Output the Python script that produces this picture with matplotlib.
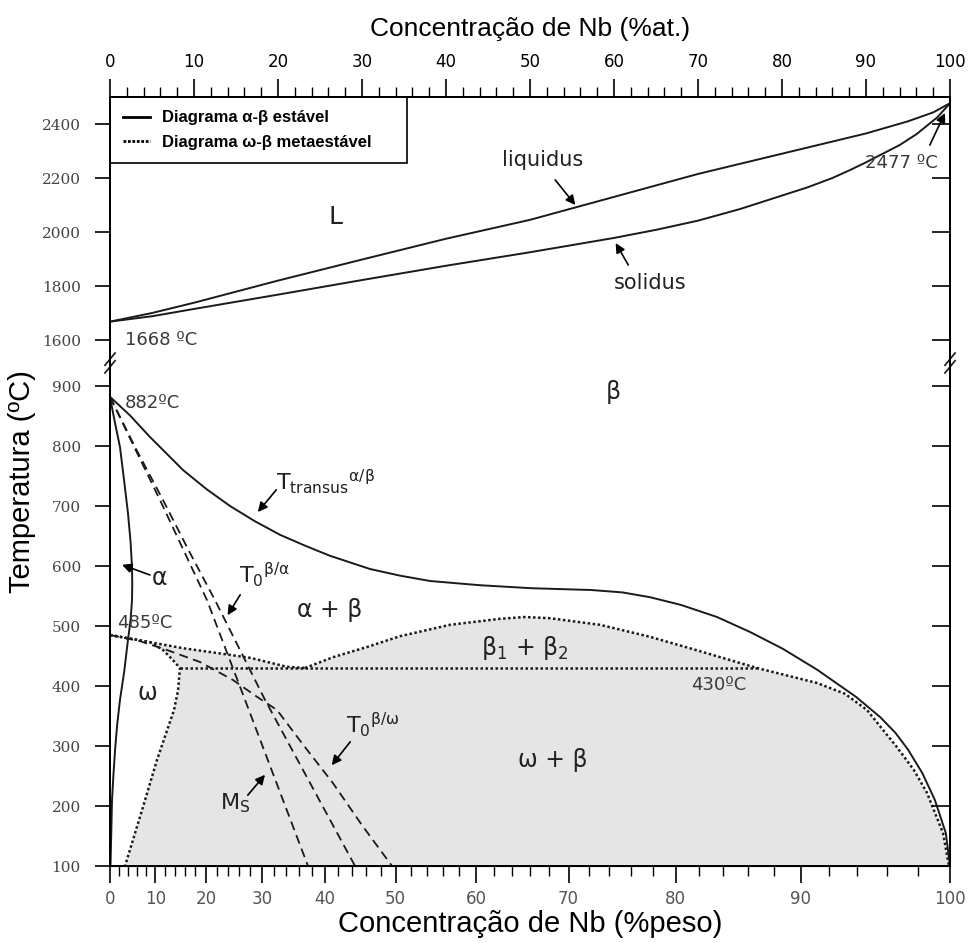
import numpy as np
import matplotlib.pyplot as plt
from matplotlib.lines import Line2D

plt.rcParams['font.family'] = ['DejaVu Sans']
plt.rcParams['mathtext.fontset'] = 'dejavusans'

M_TI = 47.87
M_NB = 92.91

# all curves: x in at.% Nb, y in ºC
liq_x = [0, 5, 10, 20, 30, 40, 50, 60, 70, 80, 90, 95, 98, 100]
liq_t = [1668, 1700, 1738, 1820, 1898, 1975, 2045, 2130, 2215, 2290, 2365, 2410, 2443, 2477]

sol_x = [0, 5, 10, 20, 30, 40, 50, 60, 65, 70, 75, 80, 83, 86, 88, 90, 92, 94, 96, 98.5, 100]
sol_t = [1668, 1688, 1715, 1768, 1822, 1875, 1925, 1978, 2008, 2042, 2085, 2135, 2165, 2200,
         2228, 2258, 2290, 2322, 2362, 2425, 2477]

transus_x = [0, 2.38, 4.76, 8.69, 11.5, 14.29, 17.2, 20.24, 23.2, 26.19, 30.95, 34.5, 38.1, 44,
             50.12, 57.26, 61, 64.29, 68, 72.26, 76.2, 80.1, 84.2, 88.8, 91.7, 93.5, 95.0,
             96.7, 98.2, 99.5, 100]
transus_t = [882, 851, 815, 760, 728, 700, 675, 652, 634, 617, 595, 584, 575, 568,
             563, 560, 556, 548, 535, 515, 490, 462, 427, 382, 348, 322, 294,
             255, 210, 155, 100]

alpha_x = [0, 0.5, 1.19, 1.7, 2.14, 2.45, 2.62, 2.65, 2.62, 2.45, 2.14, 1.7, 1.19, 0.85,
           0.6, 0.4, 0.24, 0.06]
alpha_t = [882, 845, 798, 740, 688, 640, 598, 570, 543, 510, 477, 425, 377, 335,
           293, 250, 210, 100]

ms_x = [0, 3.0, 5.95, 8.8, 11.55, 16.07, 23.57]
ms_t = [882, 795, 710, 625, 543, 377, 100]

t0a_x = [0, 3.1, 6.31, 9.4, 12.5, 18.45, 29.17]
t0a_t = [882, 795, 710, 625, 543, 377, 100]

t0w_x = [0, 3.5, 6.79, 10.71, 14.64, 17.5, 19.88, 23.0, 26.55, 30.0, 33.57]
t0w_t = [485, 475, 460, 440, 410, 382, 360, 302, 238, 168, 100]

# metastable omega-beta boundaries
omega_x = [0, 4.76, 6.31, 7.5, 8.33, 8.1, 7.62, 5.6, 3.81, 1.79]
omega_t = [485, 473, 460, 443, 430, 393, 360, 277, 193, 100]

upper_x = [0, 4.76, 8.69, 12.74, 16.67, 21.07, 23.21]
upper_t = [485, 473, 463, 455, 447, 432, 430]

dome_x = [23.21, 26.55, 30.6, 34.52, 40.48, 46.43, 49.4, 52.38, 58.33, 64.29, 70.24,
          77.02, 84.17, 87.5, 90.12, 93.69, 95.7, 97.26, 99.17, 99.88]
dome_t = [430, 448, 465, 483, 502, 512, 515, 513, 502, 482, 458,
          430, 405, 387, 360, 298, 260, 222, 155, 100]

iso_x = [8.33, 77.02]
iso_t = [430, 430]

y_ticks = [100, 200, 300, 400, 500, 600, 700, 800, 900, 1600, 1800, 2000, 2200, 2400]
at_ticks = list(range(0, 101, 10))
wt_ticks = list(range(0, 101, 10))


def at2wt(a):
    a = np.asarray(a, dtype=float)
    return 100 * a * M_NB / (a * M_NB + (100 - a) * M_TI)


def wt2at(w):
    w = np.asarray(w, dtype=float)
    return 100 * (w / M_NB) / (w / M_NB + (100 - w) / M_TI)


# broken temperature axis: 900..1600 squeezed into a small gap
T_BRK = [-2000, 100, 900, 1600, 2500, 6000]
V_BRK = [-1260, 0, 480, 526, 769, 1714]


def fwd(t):
    return np.interp(t, T_BRK, V_BRK)


def inv(v):
    return np.interp(v, V_BRK, T_BRK)


fig = plt.figure(figsize=(9.7, 9.43), dpi=100)
ax = fig.add_axes([110 / 970, 77 / 943, 840 / 970, 769 / 943])
ax.set_yscale('function', functions=(fwd, inv))
ax.set_xlim(0, 100)
ax.set_ylim(100, 2500)

line_c = '#1a1a1a'
dot = (0, (1, 1))
dash = (0, (5, 3))

poly_x = omega_x[::-1][:-1] + upper_x[1:] + dome_x[1:]
poly_t = omega_t[::-1][:-1] + upper_t[1:] + dome_t[1:]
ax.fill(poly_x, poly_t, color='#e5e5e5', lw=0, zorder=0.5)

ax.plot(liq_x, liq_t, color=line_c, lw=1.4)
ax.plot(sol_x, sol_t, color=line_c, lw=1.4)
ax.plot(transus_x, transus_t, color=line_c, lw=1.4)
ax.plot(alpha_x, alpha_t, color=line_c, lw=1.4)
ax.plot(ms_x, ms_t, color=line_c, lw=1.3, ls=dash)
ax.plot(t0a_x, t0a_t, color=line_c, lw=1.3, ls=dash)
ax.plot(t0w_x, t0w_t, color=line_c, lw=1.3, ls=dash)
ax.plot(omega_x, omega_t, color=line_c, lw=1.8, ls=dot)
ax.plot(upper_x, upper_t, color=line_c, lw=1.8, ls=dot)
ax.plot(dome_x, dome_t, color=line_c, lw=1.8, ls=dot)
ax.plot(iso_x, iso_t, color=line_c, lw=1.8, ls=dot)

# axes / ticks
ax.set_yticks(y_ticks)
ax.set_yticklabels([str(t) for t in y_ticks], family='DejaVu Serif', fontsize=11, color='#444444')
ax.tick_params(axis='y', direction='out', length=11, width=1.2, pad=10)
ax.set_ylabel('Temperatura (ºC)', family='Liberation Sans', fontsize=21, labelpad=4)

ax.xaxis.tick_top()
ax.xaxis.set_label_position('top')
ax.set_xticks(at_ticks)
ax.set_xticks(range(0, 101, 2), minor=True)
ax.tick_params(axis='x', which='major', direction='out', length=13, width=1.2, labelsize=12, pad=6)
ax.tick_params(axis='x', which='minor', direction='out', length=7, width=1.0)
ax.set_xlabel('Concentração de Nb (%at.)', family='Liberation Sans', fontsize=19, labelpad=12)

sec = ax.secondary_xaxis('bottom', functions=(at2wt, wt2at))
sec.set_xticks(wt_ticks)
sec.set_xticks(range(0, 101, 2), minor=True)
sec.tick_params(axis='x', which='major', direction='out', length=12, width=1.2, labelsize=12,
                labelcolor='#555555', pad=5)
sec.tick_params(axis='x', which='minor', direction='out', length=7, width=1.0)
sec.set_xlabel('Concentração de Nb (%peso)', family='Liberation Sans', fontsize=21, labelpad=2)

twin = ax.twinx()
twin.set_yscale('function', functions=(fwd, inv))
twin.set_ylim(100, 2500)
twin.set_yticks(y_ticks)
twin.tick_params(axis='y', direction='in', length=13, width=1.2, labelright=False)

for a in (ax, twin):
    for s in a.spines.values():
        s.set_linewidth(1.3)

# break marks on the temperature axis
yb = fwd(1250) / 769
for x0 in (0, 1):
    for dy in (-0.005, 0.005):
        ax.plot([x0 - 0.006, x0 + 0.006], [yb + dy - 0.008, yb + dy + 0.008],
                transform=ax.transAxes, color=line_c, lw=1.2, clip_on=False, zorder=5)

# legend
handles = [Line2D([], [], color='k', lw=2),
           Line2D([], [], color='k', lw=2, ls=(0, (1, 0.6)))]
leg = ax.legend(handles, ['Diagrama α-β estável', 'Diagrama ω-β metaestável'],
                loc='upper left', bbox_to_anchor=(0, 0, 297 / 840, 1), mode='expand',
                borderaxespad=0, fancybox=False, edgecolor='k', framealpha=1,
                handlelength=1.6, handletextpad=0.7,
                prop={'family': 'Liberation Sans', 'weight': 'bold', 'size': 12},
                borderpad=0.8, labelspacing=0.55)
leg.get_frame().set_linewidth(1.2)

# phase labels
txt_c = '#222222'
ax.text(26.8, 2055, 'L', fontsize=18, ha='center', va='center', color=txt_c)
ax.text(59.9, 890, 'β', fontsize=17, ha='center', va='center', color=txt_c)
ax.text(26.2, 527, 'α + β', fontsize=17, ha='center', va='center', color=txt_c)
ax.text(49.4, 463, 'β$_1$ + β$_2$', fontsize=17, ha='center', va='center', color=txt_c)
ax.text(52.7, 277, 'ω + β', fontsize=17, ha='center', va='center', color=txt_c)
ax.text(4.4, 388, 'ω', fontsize=17, ha='center', va='center', color=txt_c)
ax.text(5.9, 580, 'α', fontsize=17, ha='center', va='center', color=txt_c)
ax.text(51.5, 2267, 'liquidus', fontsize=15, ha='center', va='center', color=txt_c)
ax.text(64.3, 1811, 'solidus', fontsize=15, ha='center', va='center', color=txt_c)
ax.text(25.6, 740, r'T$_{\mathrm{transus}}{}^{\mathrm{α/β}}$', fontsize=16, ha='center', va='center', color=txt_c)
ax.text(18.4, 585, r'T$_{0}{}^{\mathrm{β/α}}$', fontsize=16, ha='center', va='center', color=txt_c)
ax.text(31.3, 335, r'T$_{0}{}^{\mathrm{β/ω}}$', fontsize=16, ha='center', va='center', color=txt_c)
ax.text(14.9, 205, r'M$_{\mathrm{S}}$', fontsize=16, ha='center', va='center', color=txt_c)

# temperature labels
t_c = '#3a3a3a'
ax.text(1.8, 1600, '1668 ºC', fontsize=13, ha='left', va='center', color=t_c)
ax.text(1.8, 872, '882ºC', fontsize=13, ha='left', va='center', color=t_c)
ax.text(0.8, 505, '485ºC', fontsize=13, ha='left', va='center', color=t_c)
ax.text(72.5, 402, '430ºC', fontsize=13, ha='center', va='center', color=t_c)
ax.text(94.2, 2255, '2477 ºC', fontsize=13, ha='center', va='center', color=t_c)

# arrows
arr = dict(arrowstyle='-|>', color='k', lw=1.2, mutation_scale=14, shrinkA=0, shrinkB=0)
for tail, tip in [((53.0, 2193), (55.4, 2100)),
                  ((61.7, 1878), (60.2, 1959)),
                  ((97.6, 2322), (99.4, 2441)),
                  ((4.76, 585), (1.43, 602)),
                  ((19.8, 727), (17.6, 690)),
                  ((15.5, 552), (14.0, 518)),
                  ((28.6, 307), (26.4, 268)),
                  ((16.4, 218), (18.45, 252))]:
    ax.annotate('', xy=tip, xytext=tail, arrowprops=arr)

fig.savefig('out.png', dpi=100)
